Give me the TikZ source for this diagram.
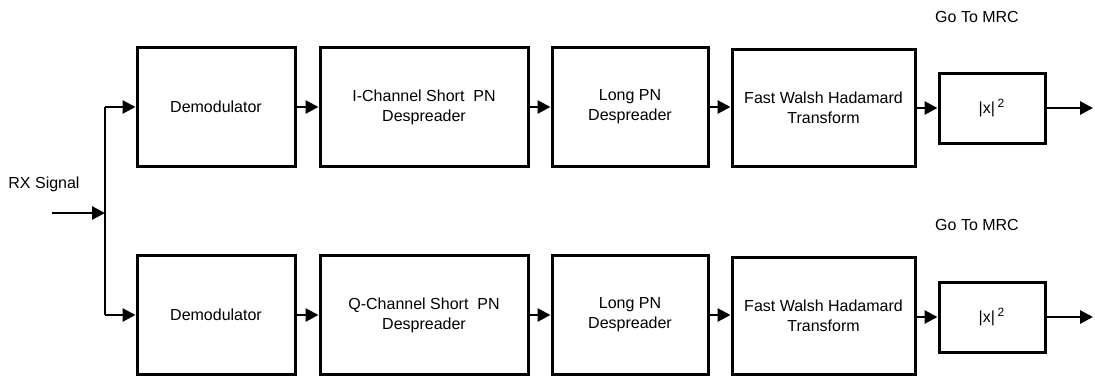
\documentclass[tikz,border=0pt]{standalone}
\usepackage{fontspec}
\setmainfont{Liberation Sans}
\usetikzlibrary{arrows.meta}
\begin{document}
\begin{tikzpicture}[x=0.5pt,y=-0.5pt,
  every node/.style={font=\fontsize{8}{10}\selectfont},
  blk/.style={draw,line width=1.5pt,inner sep=0pt,align=center,minimum height=59.5pt},
  wire/.style={line width=1.4pt,-{Triangle[length=6.5pt,width=6.5pt]}},
  lbl/.style={inner sep=0pt}]
\useasboundingbox (0,0) rectangle (1095,375);

% upper branch
\node[blk,minimum width=79pt]  (dem1) at (216,107) {Demodulator};
\node[blk,minimum width=104pt] (spn1) at (424,107) {I-Channel Short\ \ PN\\Despreader};
\node[blk,minimum width=78pt]  (lpn1) at (630,107) {Long PN\\Despreader};
\node[blk,minimum width=91.5pt,minimum height=58.5pt] (fwh1) at (823.5,108) {Fast Walsh Hadamard\\Transform};
\node[blk,minimum width=53pt,minimum height=35pt] (sq1) at (992,108) {|x|\,\textsuperscript{2}};
\coordinate (out1) at (1093,108);
\node[lbl] (mrc1) at (977,17) {Go To MRC};

% lower branch
\node[blk,minimum width=79pt]  (dem2) at (216,315) {Demodulator};
\node[blk,minimum width=104pt] (spn2) at (424,315) {Q-Channel Short\ \ PN\\Despreader};
\node[blk,minimum width=78pt]  (lpn2) at (630,315) {Long PN\\Despreader};
\node[blk,minimum width=91.5pt,minimum height=58.5pt] (fwh2) at (823.5,316) {Fast Walsh Hadamard\\Transform};
\node[blk,minimum width=53pt,minimum height=35pt] (sq2) at (992,317) {|x|\,\textsuperscript{2}};
\coordinate (out2) at (1093,317);
\node[lbl] (mrc2) at (977,225) {Go To MRC};

% input and split
\node[lbl] (rxl) at (44,184) {RX Signal};
\coordinate (rx) at (52,213);
\coordinate (split) at (105,213);

\draw[wire] (rx) -- (split);
\draw[line width=1.4pt] (split) -- (split |- dem1.west);
\draw[line width=1.4pt] (split) -- (split |- dem2.west);
\draw[wire] (split |- dem1.west) -- (dem1.west);
\draw[wire] (split |- dem2.west) -- (dem2.west);

\foreach \r in {1,2}{
  \draw[wire] (dem\r.east) -- (spn\r.west |- dem\r.east);
  \draw[wire] (spn\r.east) -- (lpn\r.west |- spn\r.east);
  \draw[wire] (lpn\r.east) -- (fwh\r.west |- lpn\r.east);
  \draw[wire] (fwh\r.east |- sq\r.west) -- (sq\r.west);
  \draw[wire] (sq\r.east) -- (out\r);
}
\end{tikzpicture}
\end{document}
